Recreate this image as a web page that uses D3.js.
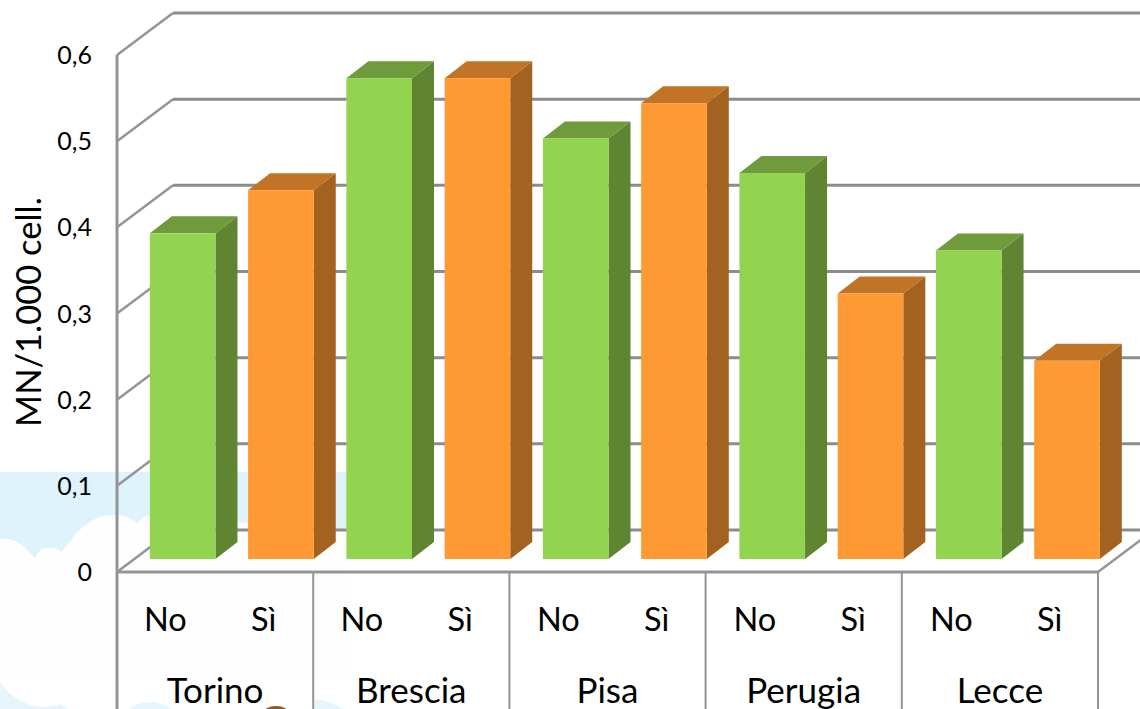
<!DOCTYPE html>
<html><head><meta charset="utf-8">
<script src="https://cdn.jsdelivr.net/npm/d3@7"></script>
<style>html,body{margin:0;padding:0;background:#fff;overflow:hidden}svg{display:block}text{font-family:Lato,"Open Sans",sans-serif;fill:#000}</style>
</head><body><svg id="c" width="1140" height="709"></svg>
<script>
const cities=["Torino","Brescia","Pisa","Perugia","Lecce"];
const answers=["No","Sì"];
const valuesNo=[0.378,0.558,0.488,0.448,0.358];
const valuesSi=[0.428,0.558,0.529,0.308,0.23];
const yTicks=[0,0.1,0.2,0.3,0.4,0.5,0.6];
const yTickLabels=["0","0,1","0,2","0,3","0,4","0,5","0,6"];
const yTitle="MN/1.000 cell.";
const colors={No:{front:"#92d350",side:"#5f8533",top:"#6f9b3c"},"Sì":{front:"#ff9933",side:"#a3621f",top:"#c17426"}};

const svg=d3.select("#c");
const X0=117,X1=1098,Y0=572,Y6=55,DX=56,DY=-42,BASE=13/42;
const y=d3.scaleLinear().domain([0,0.6]).range([Y0,Y6]);
const data=cities.flatMap((c,i)=>[{c,a:"No",v:valuesNo[i]},{c,a:"Sì",v:valuesSi[i]}]);
const keys=data.map(d=>d.c+d.a);
const x=d3.scaleBand().domain(keys).range([X0-0.8,X1+0.8]).paddingInner(0.332).paddingOuter(0.166);
const xc=d3.scaleBand().domain(cities).range([X0,X1]);

// background picture remnants
const bg=svg.append("g");
const sky="#dff3fd", soft="#e6f5fc";
bg.append("rect").attr("x",0).attr("y",472).attr("width",348).attr("height",100).attr("fill",sky);
bg.append("path").attr("fill","#fefefe").attr("d","M0,539 C12,537 22,544 27,550 L35,558 C38,550 46,547 50,548 C56,548 60,550 62,553 C64,548 67,545 70,542 C76,532 84,526 90,522 C98,517 104,515 110,515 C120,514 128,516 137,523 C142,518 146,515 150,515 L237,522 C250,522 300,535 348,528 L348,680 L0,680 Z");
bg.append("path").attr("fill",soft).attr("d","M0,682 C6,692 15,698 25,703 C38,708 50,708 60,704 L68,709 L0,709 Z");
bg.append("path").attr("fill",soft).attr("d","M130,709 C135,705 142,701 148,703 C154,700 162,704 172,709 Z");
bg.append("path").attr("fill",soft).attr("d","M313,700 C320,698 328,702 345,709 L313,709 Z");
bg.append("ellipse").attr("cx",276).attr("cy",716).attr("rx",15).attr("ry",10).attr("fill","#8a5a24");

const grid="#8c8c8c";
// back wall grid and left-wall diagonals
const g=svg.append("g").attr("fill","none").attr("stroke",grid);
yTicks.forEach(t=>{
  g.append("line").attr("x1",X0).attr("y1",y(t)).attr("x2",X0+DX).attr("y2",y(t)+DY).attr("stroke-width",2.4).attr("stroke","#949494");
  g.append("line").attr("x1",X0+DX).attr("y1",y(t)+DY).attr("x2",1140).attr("y2",y(t)+DY).attr("stroke-width",3);
});
g.append("line").attr("x1",X1).attr("y1",Y0).attr("x2",X1+DX).attr("y2",Y0+DY).attr("stroke-width",2.4).attr("stroke","#949494");
g.append("line").attr("x1",X0).attr("y1",Y6).attr("x2",X0).attr("y2",709).attr("stroke-width",3).attr("stroke","#949494");
g.append("line").attr("x1",X0-1).attr("y1",Y0).attr("x2",X1).attr("y2",Y0).attr("stroke-width",3).attr("stroke","#949494");
cities.forEach(c=>{
  g.append("line").attr("x1",xc(c)+xc.step()).attr("y1",Y0).attr("x2",xc(c)+xc.step()).attr("y2",709).attr("stroke-width",2).attr("stroke","#949494");
});

// 3D bars
const sx=DX*BASE, sy=DY*BASE, dx=22, dy=-17;
const bars=svg.append("g").selectAll("g").data(data).join("g");
const pts=a=>a.map(p=>p.join(",")).join(" ");
const frame=d=>{const l=x(d.c+d.a)+sx,r=l+x.bandwidth(),t=y(d.v)+sy,b=y(0)+sy;return{l,r,t,b}};
bars.append("polygon").attr("fill",d=>colors[d.a].side).attr("points",d=>{const f=frame(d);return pts([[f.r,f.t],[f.r+dx,f.t+dy],[f.r+dx,f.b+dy],[f.r,f.b]])});
bars.append("polygon").attr("fill",d=>colors[d.a].top).attr("points",d=>{const f=frame(d);return pts([[f.l,f.t],[f.l+dx,f.t+dy],[f.r+dx,f.t+dy],[f.r,f.t]])});
bars.append("rect").attr("fill",d=>colors[d.a].front).attr("x",d=>frame(d).l).attr("y",d=>frame(d).t).attr("width",x.bandwidth()).attr("height",d=>frame(d).b-frame(d).t);

// labels
svg.append("g").selectAll("text").data(yTicks).join("text")
  .attr("x",92).attr("y",t=>y(t)+9).attr("text-anchor","end").attr("font-size",25).text((t,i)=>yTickLabels[i]);
svg.append("g").selectAll("text").data(data).join("text")
  .attr("x",d=>x(d.c+d.a)+x.bandwidth()/2).attr("y",631).attr("text-anchor","middle").attr("font-size",32.5).text(d=>d.a);
svg.append("g").selectAll("text").data(cities).join("text")
  .attr("x",c=>xc(c)+xc.step()/2).attr("y",703).attr("text-anchor","middle").attr("font-size",35).text(c=>c);
svg.append("text").attr("transform","translate(41,312) rotate(-90)").attr("text-anchor","middle").attr("font-size",34.5).text(yTitle);
</script></body></html>
